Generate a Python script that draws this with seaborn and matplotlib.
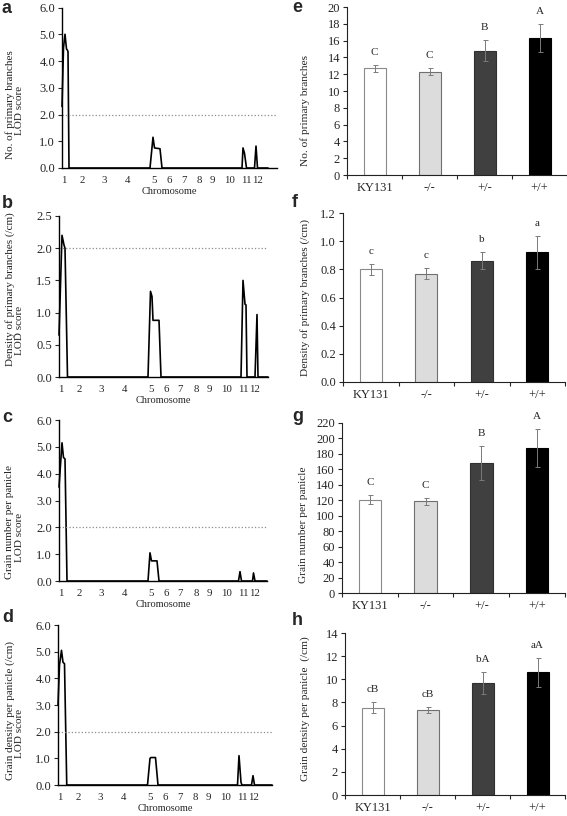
import numpy as np
import pandas as pd
import seaborn as sns
import matplotlib.pyplot as plt

sns.set_style("ticks")
plt.rcParams['font.family'] = ['Liberation Serif', 'DejaVu Serif']
plt.rcParams['font.size'] = 8

W, H = 567, 816

# chromosome label positions along the linkage map (cM)
chrom_labels = [str(i) for i in range(1, 13)]
chrom_pos = [12, 160, 336, 528, 736, 860, 972, 1100, 1204, 1340, 1472, 1564]
threshold = 2.0

# LOD traces
a_pos = [0, 12, 24, 36, 44, 48, 56, 704, 728, 740, 784, 800, 1440, 1448, 1460, 1476, 1540, 1552, 1564, 1648]
a_lod = [2.3, 4.5, 5.0, 4.45, 4.4, 4.35, 0, 0, 1.15, 0.75, 0.72, 0, 0, 0.75, 0.55, 0, 0, 0.82, 0, 0]

b_pos = [0, 24, 40, 48, 68, 712, 732, 744, 752, 800, 816, 1456, 1472, 1488, 1496, 1504, 1568, 1584, 1592, 1672]
b_lod = [0.65, 2.2, 2.05, 2.0, 0, 0, 1.33, 1.25, 0.88, 0.88, 0, 0, 1.5, 1.13, 1.12, 0, 0, 0.97, 0, 0]

c_pos = [0, 24, 36, 48, 64, 712, 728, 740, 784, 800, 1436, 1448, 1460, 1548, 1556, 1568, 1664]
c_lod = [3.5, 5.15, 4.6, 4.55, 0, 0, 1.05, 0.75, 0.75, 0, 0, 0.35, 0, 0, 0.3, 0, 0]

d_pos = [0, 12, 28, 40, 52, 70, 716, 736, 744, 780, 800, 1436, 1448, 1464, 1472, 1548, 1560, 1572, 1712]
d_lod = [3.0, 4.5, 5.05, 4.6, 4.55, 0, 0, 1.0, 1.03, 1.03, 0, 0, 1.1, 0.1, 0, 0, 0.35, 0, 0]

# bar data
genotypes = ["KY131", "-/-", "+/-", "+/+"]
bar_colors = ["#ffffff", "#dcdcdc", "#404040", "#000000"]
edge_colors = ["#8a8a8a", "#707070", "#303030", "#000000"]

e_mean = [12.7, 12.3, 14.8, 16.3]
e_sd = [0.4, 0.4, 1.25, 1.65]
e_sig = ["C", "C", "B", "A"]

f_mean = [0.80, 0.77, 0.86, 0.92]
f_sd = [0.04, 0.04, 0.06, 0.12]
f_sig = ["c", "c", "b", "a"]

g_mean = [121, 119, 168, 188]
g_sd = [5.5, 4.5, 22, 24.5]
g_sig = ["C", "C", "B", "A"]

h_mean = [7.55, 7.35, 9.7, 10.6]
h_sd = [0.45, 0.25, 0.95, 1.25]
h_sig = ["cB", "cB", "bA", "aA"]

fig = plt.figure(figsize=(W / 100, H / 100), dpi=100)


def add_ax(l, t, r, b):
    return fig.add_axes([l / W, 1 - b / H, (r - l) / W, (b - t) / H])


def ftext(x, y, s, **kw):
    fig.text(x / W, 1 - y / H, s, **kw)


# ---- LOD panels ----
lod_panels = [
    ("a", a_pos, a_lod, (62, 7.5, 277, 168), 6.0, 1.0, 1720,
     [("No. of primary branches", 10, 105), ("LOD score", 20, 110)], (2, 13)),
    ("b", b_pos, b_lod, (59, 216, 268, 377), 2.5, 0.5, 1672,
     [("Density of primary branches (/cm)", 10, 289), ("LOD score", 20, 330)], (2, 208)),
    ("c", c_pos, c_lod, (59, 420, 267, 581), 6.0, 1.0, 1664,
     [("Grain number per panicle", 10, 522), ("LOD score", 20, 537)], (2, 422)),
    ("d", d_pos, d_lod, (58, 625, 272, 785), 6.0, 1.0, 1712,
     [("Grain density per panicle (/cm)", 10, 710), ("LOD score", 20, 733)], (2, 622)),
]

for letter, pos, lod, rect, ymax, ystep, xmax, labels, lpos in lod_panels:
    ax = add_ax(*rect)
    df = pd.DataFrame({"pos": pos, "lod": lod})
    sns.lineplot(data=df, x="pos", y="lod", ax=ax, color="black", lw=1.2,
                 estimator=None, sort=False, clip_on=False)
    ax.axhline(threshold, color="#8c8c8c", ls=":", lw=0.9)
    ax.set_xlim(0, xmax)
    ax.set_ylim(0, ymax)
    ax.set_yticks(np.arange(0, ymax + 1e-9, ystep))
    ax.set_yticklabels([f"{v:.1f}" for v in np.arange(0, ymax + 1e-9, ystep)])
    ax.set_xticks(chrom_pos)
    ax.set_xticklabels(chrom_labels)
    ax.tick_params(axis="x", length=0, pad=6, labelsize=7.8)
    ax.tick_params(axis="y", length=3, width=0.8, pad=2, labelsize=9)
    ax.set_xlabel("Chromosome", fontsize=7.5, labelpad=1)
    ax.set_ylabel("")
    sns.despine(ax=ax)
    for sp in ["left", "bottom"]:
        ax.spines[sp].set_linewidth(1.0)
        ax.spines[sp].set_color("black")
    for txt, x, y in labels:
        ftext(x, y, txt, rotation=90, ha="center", va="center", fontsize=8, color="#222222")
    ftext(lpos[0], lpos[1], letter, fontsize=13, fontweight="bold",
          family="Liberation Sans", va="baseline", ha="left")

# ---- bar panels ----
bar_panels = [
    ("e", e_mean, e_sd, e_sig, (347, 7, 567, 175), 20, 2, "{:.0f}",
     "No. of primary branches", (305, 110), (292, 12)),
    ("f", f_mean, f_sd, f_sig, (343, 213, 565, 382), 1.2, 0.2, "{:.1f}",
     "Density of primary branches (/cm)", (305, 297), (292, 207)),
    ("g", g_mean, g_sd, g_sig, (342, 423, 565, 593), 220, 20, "{:.0f}",
     "Grain number per panicle", (303, 525), (292, 421)),
    ("h", h_mean, h_sd, h_sig, (345, 633, 565, 795), 14, 2, "{:.0f}",
     "Grain density per panicle  (/cm)", (305, 709), (292, 625)),
]

for letter, mean, sd, sig, rect, ymax, ystep, fmt, ylab, ylpos, lpos in bar_panels:
    ax = add_ax(*rect)
    df = pd.DataFrame({"genotype": genotypes, "value": mean})
    sns.barplot(data=df, x="genotype", y="value", hue="genotype", palette=bar_colors,
                width=0.4, legend=False, ax=ax, linewidth=0.8, saturation=1)
    for p, ec in zip(ax.patches, edge_colors):
        p.set_edgecolor(ec)
    ax.errorbar(range(len(genotypes)), mean, yerr=sd, fmt="none", ecolor="#7a7a7a",
                elinewidth=0.7, capsize=1.8, capthick=0.7, clip_on=False)
    for i, (m, s, t) in enumerate(zip(mean, sd, sig)):
        ax.annotate(t, (i, m + s), xytext=(0, 9), textcoords="offset points",
                    ha="center", va="center", fontsize=8, annotation_clip=False)
    ax.set_xlim(-0.5, 3.5)
    ax.set_ylim(0, ymax)
    ticks = np.arange(0, ymax + 1e-9, ystep)
    ax.set_yticks(ticks)
    ax.set_yticklabels([fmt.format(v) for v in ticks])
    ax.set_xticks([-0.5, 0.5, 1.5, 2.5, 3.5], minor=True)
    ax.tick_params(axis="x", which="major", length=0, pad=5, labelsize=9)
    ax.tick_params(axis="x", which="minor", length=3, width=0.8)
    ax.tick_params(axis="y", length=3, width=0.8, pad=2, labelsize=9)
    ax.set_xlabel("")
    ax.set_ylabel("")
    sns.despine(ax=ax)
    for sp in ["left", "bottom"]:
        ax.spines[sp].set_linewidth(0.8)
        ax.spines[sp].set_color("#222222")
    ftext(ylpos[0], ylpos[1], ylab, rotation=90, ha="center", va="center",
          fontsize=8.2, color="#222222")
    ftext(lpos[0], lpos[1], letter, fontsize=13, fontweight="bold",
          family="Liberation Sans", va="baseline", ha="left")

fig.savefig("out.png", dpi=100)
